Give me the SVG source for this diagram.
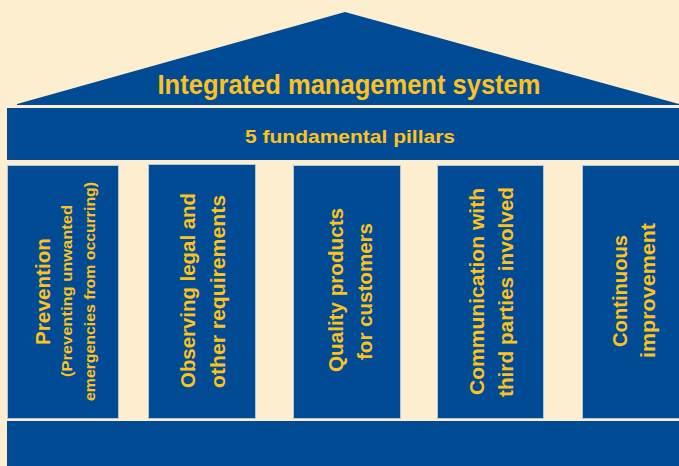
<svg xmlns="http://www.w3.org/2000/svg" width="679" height="466" viewBox="0 0 679 466">
<style>
.bg{fill:#FEEED0}
.blue{fill:#014B94}
.col{fill:#014B94;stroke:#B8C4D4;stroke-width:1}
text{font-family:"Liberation Sans",Arial,sans-serif;font-weight:bold;fill:#FFC21C;text-anchor:middle}
.t1{font-size:27px}
.t2{font-size:19px}
.c{font-size:19.5px}
.s{font-size:14.5px}
</style>
<rect class="bg" x="0" y="0" width="679" height="466"/>
<g id="roof">
<polygon class="blue" points="345,12 679,104 679,105 17,105 17,104"/>
<text class="t1" x="349" y="94" textLength="383" lengthAdjust="spacingAndGlyphs">Integrated management system</text>
</g>
<g id="entablature">
<rect class="blue" x="7" y="108" width="672" height="52"/>
<text class="t2" x="350" y="143" textLength="210" lengthAdjust="spacingAndGlyphs">5 fundamental pillars</text>
</g>
<g id="pillar1">
<rect class="col" x="7.5" y="165.5" width="111" height="253"/>
<text class="c" transform="translate(50,291.5) rotate(-90)" textLength="107" lengthAdjust="spacingAndGlyphs">Prevention</text>
<text class="s" transform="translate(72,291) rotate(-90)" textLength="172" lengthAdjust="spacingAndGlyphs">(Preventing unwanted</text>
<text class="s" transform="translate(95,291.5) rotate(-90)" textLength="219" lengthAdjust="spacingAndGlyphs">emergencies from occurring)</text>
</g>
<g id="pillar2">
<rect class="col" x="148.5" y="164.5" width="107" height="254"/>
<text class="c" transform="translate(195,290.5) rotate(-90)" textLength="195" lengthAdjust="spacingAndGlyphs">Observing legal and</text>
<text class="c" transform="translate(225,291.5) rotate(-90)" textLength="193" lengthAdjust="spacingAndGlyphs">other requirements</text>
</g>
<g id="pillar3">
<rect class="col" x="293.5" y="165.5" width="107" height="253"/>
<text class="c" transform="translate(343,290) rotate(-90)" textLength="164" lengthAdjust="spacingAndGlyphs">Quality products</text>
<text class="c" transform="translate(372,291.5) rotate(-90)" textLength="137" lengthAdjust="spacingAndGlyphs">for customers</text>
</g>
<g id="pillar4">
<rect class="col" x="437.5" y="165.5" width="106" height="253"/>
<text class="c" transform="translate(484,291.5) rotate(-90)" textLength="207" lengthAdjust="spacingAndGlyphs">Communication with</text>
<text class="c" transform="translate(513,292) rotate(-90)" textLength="210" lengthAdjust="spacingAndGlyphs">third parties involved</text>
</g>
<g id="pillar5">
<rect class="col" x="582.5" y="165.5" width="97" height="253"/>
<text class="c" transform="translate(627,291) rotate(-90)" textLength="112" lengthAdjust="spacingAndGlyphs">Continuous</text>
<text class="c" transform="translate(655,290.5) rotate(-90)" textLength="135" lengthAdjust="spacingAndGlyphs">improvement</text>
</g>
<g id="base">
<rect class="blue" x="7" y="421" width="672" height="45"/>
</g>
<g id="connectors"></g>
</svg>
